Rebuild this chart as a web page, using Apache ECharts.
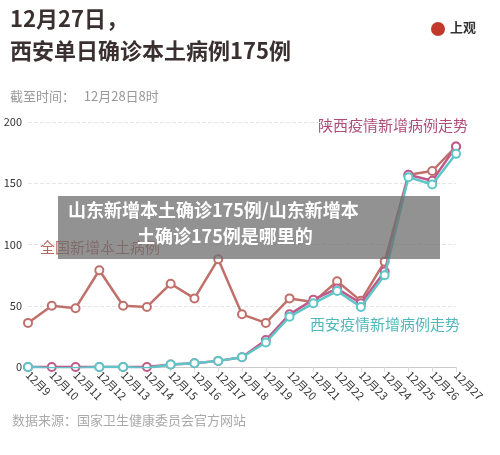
<!DOCTYPE html>
<html><head><meta charset="utf-8">
<script src="https://cdn.jsdelivr.net/npm/echarts@6/dist/echarts.min.js"></script>
<style>html,body{margin:0;padding:0;background:#fff}#c{width:500px;height:455px}</style>
</head><body><div id="c"></div>
<script>
const categories = ['12月9','12月10','12月11','12月12','12月13','12月14','12月15','12月16','12月17','12月18','12月19','12月20','12月21','12月22','12月23','12月24','12月25','12月26','12月27'];
const national = [36,50,48,79,50,49,68,56,88,43,36,56,53,70,54,86,157,160,180];
const shaanxi = [0,0,0,0,0,0,2,3,5,8,22,43,55,64,52,78,157,152,180];
const xian = [0,-1,-1,0,0,-1,2,3,5,8,20,41,52,62,49,75,155,149,174];
const yTicks = [0,50,100,150,200];
const F = 'Noto Sans CJK SC';
const chart = echarts.init(document.getElementById('c'));
function s(name, data, color, z){
  return {name, type:'line', data, z, symbol:'circle', symbolSize:8, showSymbol:true,
    lineStyle:{color, width:2.5}, itemStyle:{color:'#fff', borderColor:color, borderWidth:2}};
}
chart.setOption({
  animation:false,
  textStyle:{fontFamily:F},
  grid:{left:28,right:44,top:122,bottom:88},
  xAxis:{type:'category', data:categories, boundaryGap:false,
    axisLine:{lineStyle:{color:'#ccc'}}, axisTick:{show:true,lineStyle:{color:'#ddd'}},
    axisLabel:{rotate:-45, color:'#333', fontSize:11, margin:6, interval:0, align:'left'}},
  yAxis:{type:'value', min:0, max:200, interval:50,
    axisLine:{show:false}, axisTick:{show:false},
    axisLabel:{color:'#333', fontSize:11, margin:6},
    splitLine:{lineStyle:{color:'#e6e6e6', type:'dashed'}}},
  series:[s('全国新增本土病例',national,'#c0706a',2), s('陕西疫情新增病例走势',shaanxi,'#c05a8a',3), s('西安疫情新增病例走势',xian,'#5fc5c8',4)],
  graphic:[
    {type:'text', left:10, top:8, style:{text:'12月27日，', font:'bold 22px '+F, fill:'#3a3030'}},
    {type:'text', left:10, top:40, style:{text:'西安单日确诊本土病例175例', font:'bold 22px '+F, fill:'#3a3030'}},
    {type:'text', left:10, top:90, style:{text:'截至时间：   12月28日8时', font:'13px '+F, fill:'#999'}},
    {type:'circle', shape:{cx:438, cy:29, r:7}, style:{fill:'#c0392b'}},
    {type:'text', left:450, top:21, style:{text:'上观', font:'bold 13px '+F, fill:'#333'}},
    {type:'text', left:318, top:118, style:{text:'陕西疫情新增病例走势', font:'15px '+F, fill:'#b04a7a'}},
    {type:'text', left:40, top:240, style:{text:'全国新增本土病例', font:'15px '+F, fill:'#b8665e'}},
    {type:'text', left:310, top:317, style:{text:'西安疫情新增病例走势', font:'15px '+F, fill:'#4fb8bc'}},
    {type:'text', left:12, top:414, style:{text:'数据来源：国家卫生健康委员会官方网站', font:'13px '+F, fill:'#aaa'}},
    {type:'rect', z:100, shape:{x:58, y:196, width:382, height:63}, style:{fill:'rgba(110,110,110,0.75)'}},
    {type:'text', z:101, left:68, top:201, style:{text:'山东新增本土确诊175例/山东新增本', font:'bold 18px '+F, fill:'#fff'}},
    {type:'text', z:101, left:137, top:227, style:{text:'土确诊175例是哪里的', font:'bold 18px '+F, fill:'#fff'}}
  ]
});
</script></body></html>
